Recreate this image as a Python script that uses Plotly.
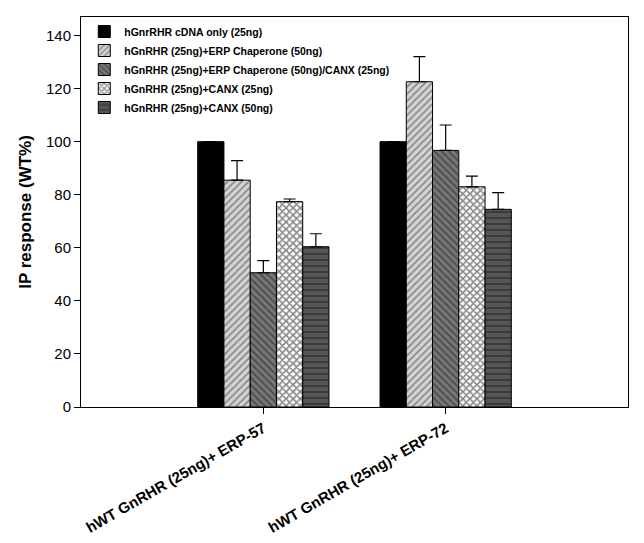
import plotly.graph_objects as go

categories = ["hWT GnRHR (25ng)+ ERP-57", "hWT GnRHR (25ng)+ ERP-72"]
series_names = [
    "hGnrRHR cDNA only (25ng)",
    "hGnRHR (25ng)+ERP Chaperone (50ng)",
    "hGnRHR (25ng)+ERP Chaperone (50ng)/CANX (25ng)",
    "hGnRHR (25ng)+CANX (25ng)",
    "hGnRHR (25ng)+CANX (50ng)",
]
values = [
    [100, 100],
    [85.5, 122.6],
    [50.6, 96.7],
    [77.4, 83.0],
    [60.4, 74.5],
]
errors = [
    [0, 0],
    [7.4, 9.5],
    [4.6, 9.6],
    [1.0, 4.0],
    [4.9, 6.3],
]
y_ticks = [0, 20, 40, 60, 80, 100, 120, 140]

styles = [
    dict(bg="#000000", fg="#000000", shape="", size=5, sol=0.3),
    dict(bg="#d4d4d4", fg="#444444", shape="/", size=5, sol=0.35),
    dict(bg="#777777", fg="#222222", shape="\\", size=5, sol=0.35),
    dict(bg="#ffffff", fg="#111111", shape="x", size=5, sol=0.55),
    dict(bg="#555555", fg="#1a1a1a", shape="-", size=6, sol=0.3),
]

fig = go.Figure()
for name, vals, errs, st in zip(series_names, values, errors, styles):
    fig.add_trace(go.Bar(
        name=f"<b>{name}</b>",
        x=[0, 1],
        y=vals,
        marker=dict(
            color=st["bg"],
            line=dict(color="#000000", width=1),
            pattern=dict(shape=st["shape"], fgcolor=st["fg"], bgcolor=st["bg"],
                         size=st["size"], solidity=st["sol"], fillmode="overlay"),
        ),
        error_y=dict(type="data", symmetric=False, array=errs,
                     arrayminus=[0] * len(errs), color="#000000",
                     thickness=1.2, width=6, visible=True),
    ))

fig.update_layout(
    width=644, height=543,
    barmode="group", bargap=0.28, bargroupgap=0,
    paper_bgcolor="white", plot_bgcolor="white",
    margin=dict(l=81, r=16, t=17, b=136),
    font=dict(family="Arial, Liberation Sans, sans-serif", color="#000000"),
    showlegend=True,
    legend=dict(x=0.006, y=1.0, xanchor="left", yanchor="top",
                bgcolor="rgba(0,0,0,0)", borderwidth=0,
                font=dict(size=10.5, family="Arial, Liberation Sans, sans-serif"),
                itemwidth=30, tracegroupgap=0),
)
fig.update_xaxes(
    range=[-1, 2], tickmode="array", tickvals=[0, 1], ticktext=[f"<b>{c}</b>" for c in categories],
    tickangle=-30, ticks="outside", ticklen=6, tickcolor="#000000",
    showline=True, linecolor="#000000", linewidth=1, mirror=True,
    showgrid=False, zeroline=False, tickfont=dict(size=15), automargin=False,
)
fig.update_yaxes(
    range=[0, 147], tickvals=y_ticks, ticks="outside", ticklen=6, tickcolor="#000000",
    showline=True, linecolor="#000000", linewidth=1, mirror=True,
    showgrid=False, zeroline=False, tickfont=dict(size=15), automargin=False,
    title=dict(text="<b>IP response (WT%)</b>", font=dict(size=17), standoff=10),
)

fig.write_html("out.html", config={"displayModeBar": False},
               post_script="document.body.style.margin='0';")
